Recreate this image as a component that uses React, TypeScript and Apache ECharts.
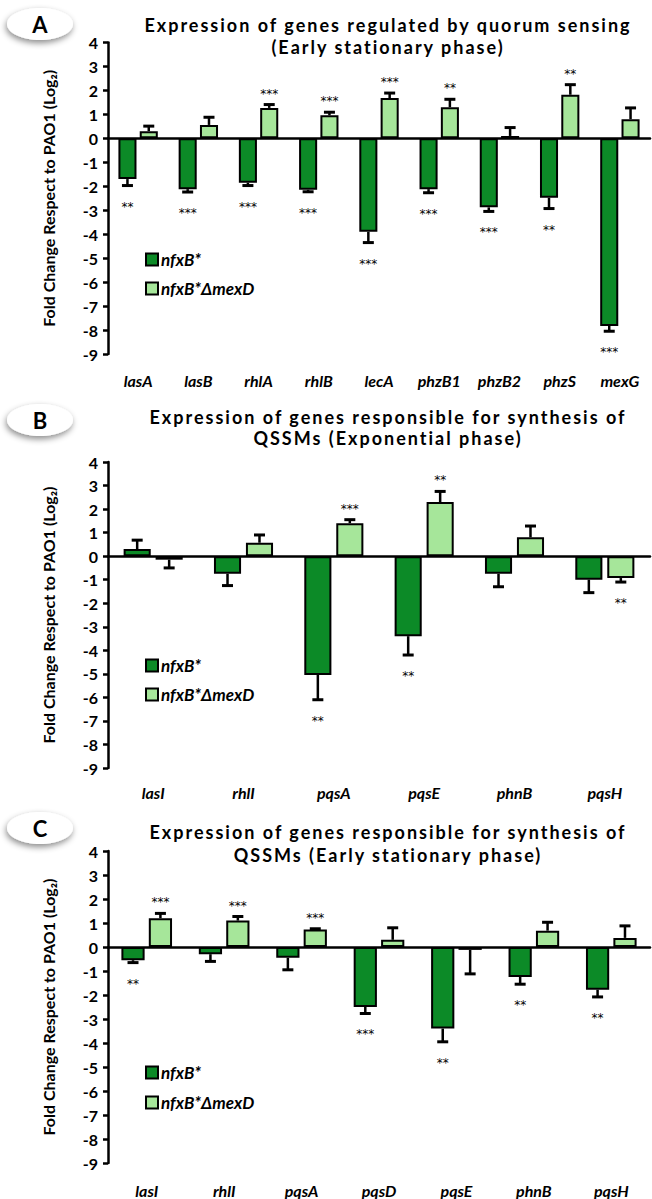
import React, { useEffect, useRef } from "react";
import * as echarts from "echarts";

const FONT = "Lato";
const DARK = "#0c8a27";
const LIGHT = "#a6e69a";
const NAME_DARK = "nfxB*";
const NAME_LIGHT = "nfxB*ΔmexD";

// Panel A
const catsA = ["lasA", "lasB", "rhlA", "rhlB", "lecA", "phzB1", "phzB2", "phzS", "mexG"];
const darkA = [-1.7, -2.12, -1.85, -2.15, -3.9, -2.12, -2.88, -2.48, -7.83];
const darkErrA = [0.27, 0.12, 0.12, 0.08, 0.45, 0.15, 0.17, 0.45, 0.22];
const lightA = [0.3, 0.56, 1.27, 0.96, 1.68, 1.3, 0.1, 1.82, 0.8];
const lightErrA = [0.21, 0.32, 0.14, 0.13, 0.21, 0.33, 0.35, 0.42, 0.47];
const sigDarkA = ["**", "***", "***", "***", "***", "***", "***", "**", "***"];
const sigLightA = ["", "", "***", "***", "***", "**", "", "**", ""];

// Panel B
const catsB = ["lasI", "rhlI", "pqsA", "pqsE", "phnB", "pqsH"];
const darkB = [0.3, -0.75, -5.05, -3.4, -0.75, -1.0];
const darkErrB = [0.38, 0.5, 1.05, 0.8, 0.55, 0.55];
const lightB = [-0.15, 0.57, 1.4, 2.3, 0.8, -0.93];
const lightErrB = [0.35, 0.33, 0.15, 0.45, 0.48, 0.17];
const sigDarkB = ["", "", "**", "**", "", ""];
const sigLightB = ["", "", "***", "**", "", "**"];

// Panel C
const catsC = ["lasI", "rhlI", "pqsA", "pqsD", "pqsE", "phnB", "pqsH"];
const darkC = [-0.55, -0.3, -0.45, -2.5, -3.4, -1.25, -1.78];
const darkErrC = [0.1, 0.3, 0.5, 0.27, 0.55, 0.3, 0.3];
const lightC = [1.2, 1.1, 0.73, 0.3, -0.12, 0.68, 0.38];
const lightErrC = [0.2, 0.17, 0.03, 0.5, 1.0, 0.35, 0.5];
const sigDarkC = ["**", "", "", "***", "**", "**", "**"];
const sigLightC = ["***", "***", "***", "", "", "", ""];

const yTicksMin = -9;
const yTicksMax = 4;
const yAxisName = "Fold Change Respect to PAO1 (Log₂)";

const titlesA = ["Expression of genes regulated by quorum sensing", "(Early stationary phase)"];
const titlesB = ["Expression of genes responsible for synthesis of", "QSSMs (Exponential phase)"];
const titlesC = ["Expression of genes responsible for synthesis of", "QSSMs (Early stationary phase)"];

const panels = [
  { letter: "A", cats: catsA, dark: darkA, darkErr: darkErrA, light: lightA, lightErr: lightErrA, sigD: sigDarkA, sigL: sigLightA, titles: titlesA,
    top: 42.5, height: 311.5, labelMargin: 18, legendTop: 251, legendGap: 12, titleY: [25, 47], letterY: 24 },
  { letter: "B", cats: catsB, dark: darkB, darkErr: darkErrB, light: lightB, lightErr: lightErrB, sigD: sigDarkB, sigL: sigLightB, titles: titlesB,
    top: 462, height: 306, labelMargin: 16, legendTop: 657, legendGap: 12, titleY: [417, 438], letterY: 420 },
  { letter: "C", cats: catsC, dark: darkC, darkErr: darkErrC, light: lightC, lightErr: lightErrC, sigD: sigDarkC, sigL: sigLightC, titles: titlesC,
    top: 851, height: 312, labelMargin: 19, legendTop: 1064, legendGap: 13, titleY: [832, 855], letterY: 828 },
];

const ALL_TITLES = [...titlesA, ...titlesB, ...titlesC];
const BAR_FRAC = 0.3;
const GAP_FRAC = 0.18;

function buildOption() {
  const grid: any[] = [];
  const xAxis: any[] = [];
  const yAxis: any[] = [];
  const series: any[] = [];
  const legend: any[] = [];
  const graphic: any[] = [];

  panels.forEach((p, g) => {
    grid.push({ left: 108, width: 542, top: p.top, height: p.height, containLabel: false });
    xAxis.push({
      gridIndex: g, type: "category", data: p.cats, position: "top",
      axisLine: { show: true, onZero: true, lineStyle: { color: "#000", width: 2.5 } },
      axisTick: { show: false }, axisLabel: { show: false }, splitLine: { show: false },
    });
    xAxis.push({
      gridIndex: g, type: "category", data: p.cats, position: "bottom",
      axisLine: { show: false, onZero: false }, axisTick: { show: false }, splitLine: { show: false },
      axisLabel: { margin: p.labelMargin, color: "#000", fontFamily: FONT, fontWeight: "bold", fontStyle: "italic", fontSize: 16, interval: 0 },
    });
    yAxis.push({
      gridIndex: g, type: "value", min: yTicksMin, max: yTicksMax, interval: 1,
      axisLine: { show: true, lineStyle: { color: "#000", width: 2.5 } },
      axisTick: { show: true, length: 5, lineStyle: { color: "#000", width: 2.5 } },
      splitLine: { show: false },
      axisLabel: { color: "#000", fontFamily: FONT, fontWeight: "bold", fontSize: 16, margin: 10 },
      name: yAxisName, nameLocation: "middle", nameGap: 52,
      nameTextStyle: { color: "#000", fontFamily: FONT, fontWeight: "bold", fontSize: 16 },
    });
    const xi = g * 2;
    series.push({
      name: NAME_DARK, type: "bar", xAxisIndex: xi, yAxisIndex: g, data: p.dark,
      barWidth: (BAR_FRAC * 100) + "%", barGap: (GAP_FRAC * 100) + "%",
      itemStyle: { color: DARK, borderColor: "#000", borderWidth: 2 }, z: 2,
    });
    series.push({
      name: NAME_LIGHT, type: "bar", xAxisIndex: xi, yAxisIndex: g, data: p.light,
      barWidth: (BAR_FRAC * 100) + "%", barGap: (GAP_FRAC * 100) + "%",
      itemStyle: { color: LIGHT, borderColor: "#000", borderWidth: 2 }, z: 2,
    });
    const errData: any[] = [];
    const sigs: string[] = [];
    p.cats.forEach((_, i) => {
      errData.push([i, p.dark[i], p.darkErr[i], 0]);
      sigs.push(p.sigD[i]);
      errData.push([i, p.light[i], p.lightErr[i], 1]);
      sigs.push(p.sigL[i]);
    });
    series.push({
      type: "custom", xAxisIndex: xi, yAxisIndex: g, data: errData, z: 5, clip: false,
      encode: { x: 0, y: 1 }, silent: true,
      renderItem: (params: any, api: any) => {
        const i = api.value(0);
        const v = api.value(1);
        const e = api.value(2);
        const side = api.value(3);
        const catW = api.size([1, 0])[0];
        const bw = catW * BAR_FRAC;
        const off = ((bw + bw * GAP_FRAC) / 2) * (side ? 1 : -1);
        const dir = v >= 0 ? 1 : -1;
        const base = api.coord([i, v]);
        const end = api.coord([i, v + dir * e]);
        const x = base[0] + off;
        const children: any[] = [
          { type: "line", shape: { x1: x, y1: base[1], x2: x, y2: end[1] }, style: { stroke: "#000", lineWidth: 2.5 } },
          { type: "line", shape: { x1: x - 5.5, y1: end[1], x2: x + 5.5, y2: end[1] }, style: { stroke: "#000", lineWidth: 3 } },
        ];
        const s = sigs[params.dataIndex];
        if (s) {
          children.push({
            type: "text",
            style: {
              text: s, x: x, y: end[1] + (dir > 0 ? -11 : 21),
              align: "center", verticalAlign: "middle",
              fontFamily: "DejaVu Sans", fontSize: 12, fill: "#000",
            },
          });
        }
        return { type: "group", children };
      },
    });
    legend.push({
      orient: "vertical", left: 145, top: p.legendTop, padding: 0,
      itemWidth: 12, itemHeight: 12, itemGap: p.legendGap, icon: "rect",
      data: [NAME_DARK, NAME_LIGHT], selectedMode: false,
      itemStyle: { borderColor: "#000", borderWidth: 2 },
      textStyle: { color: "#000", fontFamily: FONT, fontWeight: "bold", fontStyle: "italic", fontSize: 17, lineHeight: 14, padding: [0, 0, 0, -2] },
    });
    graphic.push({
      type: "ellipse", shape: { cx: 40, cy: p.letterY, rx: 33, ry: 16 },
      style: { fill: "#fff", shadowBlur: 6, shadowOffsetX: -1, shadowOffsetY: 3, shadowColor: "rgba(0,0,0,0.45)" }, z: 10,
    });
    graphic.push({
      type: "text", x: 40, y: p.letterY, z: 11,
      style: { text: p.letter, align: "center", verticalAlign: "middle", fontFamily: FONT, fontWeight: "bold", fontSize: 22, fill: "#000" },
    });
    p.titles.forEach((t, k) => {
      graphic.push({
        type: "text", x: 388, y: p.titleY[k], z: 11,
        style: { text: t, align: "center", verticalAlign: "middle", fontFamily: FONT, fontWeight: "bold", fontSize: 18, fill: "#000" },
      });
    });
  });

  return { animation: false, backgroundColor: "#fff", grid, xAxis, yAxis, series, legend, graphic };
}

function spaceTitles(root: HTMLElement) {
  root.querySelectorAll("text").forEach((el) => {
    const t = (el.textContent || "").trim();
    if (ALL_TITLES.indexOf(t) >= 0) {
      (el as any).style.letterSpacing = "2px";
    }
  });
}

export default function App() {
  const ref = useRef<HTMLDivElement>(null);
  useEffect(() => {
    if (!ref.current) return;
    const el = ref.current;
    const chart = echarts.init(el, undefined, { renderer: "svg" });
    chart.setOption(buildOption() as any);
    spaceTitles(el);
    chart.on("finished", () => spaceTitles(el));
    return () => chart.dispose();
  }, []);
  return <div ref={ref} style={{ position: "absolute", left: 0, top: 0, width: 652, height: 1199 }} />;
}
